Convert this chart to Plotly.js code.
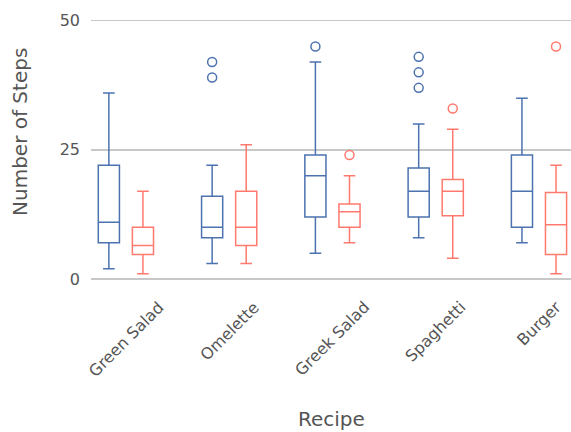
<!DOCTYPE html>
<html>
<head>
<meta charset="utf-8">
<script src="https://cdn.plot.ly/plotly-3.0.1.min.js"></script>
<style>html,body{margin:0;padding:0;background:#fff}#chart{width:571px;height:432px}</style>
</head>
<body>
<div id="chart"></div>
<script>
// Categories
const recipes = ["Green Salad", "Omelette", "Greek Salad", "Spaghetti", "Burger"];

// Series A (blue) box statistics
const aLower  = [2, 3, 5, 8, 7];
const aQ1     = [7, 8, 12, 12, 10];
const aMedian = [11, 10, 20, 17, 17];
const aQ3     = [22, 16, 24, 21.5, 24];
const aUpper  = [36, 22, 42, 30, 35];
const aOutliers = [[], [39, 42], [45], [37, 40, 43], []];

// Series B (red) box statistics
const bLower  = [1, 3, 7, 4, 1];
const bQ1     = [4.75, 6.5, 10, 12.25, 4.75];
const bMedian = [6.5, 10, 13, 17, 10.5];
const bQ3     = [10, 17, 14.5, 19.25, 16.75];
const bUpper  = [17, 26, 20, 29, 22];
const bOutliers = [[], [], [24], [33], [45]];

const yTicks = [0, 25, 50];

const blue = "rgb(76,114,176)";
const red = "rgb(255,122,110)";
const textGrey = "rgb(85,85,85)";

function boxTrace(name, color, lo, q1, med, q3, up) {
  return {
    type: "box",
    name: name,
    x: recipes,
    lowerfence: lo, q1: q1, median: med, q3: q3, upperfence: up,
    boxpoints: false,
    whiskerwidth: 0.55,
    fillcolor: "rgba(255,255,255,0)",
    line: {color: color, width: 1.5},
    showlegend: false
  };
}

function outlierTrace(name, color, outl) {
  const xs = [], ys = [];
  outl.forEach((vals, i) => vals.forEach(v => { xs.push(recipes[i]); ys.push(v); }));
  return {
    type: "scatter",
    mode: "markers",
    name: name + " outliers",
    x: xs, y: ys,
    marker: {color: color, symbol: "circle-open", size: 9, line: {color: color, width: 1.5}},
    showlegend: false
  };
}

const data = [
  boxTrace("A", blue, aLower, aQ1, aMedian, aQ3, aUpper),
  boxTrace("B", red, bLower, bQ1, bMedian, bQ3, bUpper),
  outlierTrace("A", blue, aOutliers),
  outlierTrace("B", red, bOutliers)
];

// Category labels, centred under each category and rotated
const tickAnnotations = recipes.map(r => ({
  text: r, textangle: -45,
  xref: "x", yref: "paper", x: r, y: 0, yshift: -5,
  xanchor: "center", yanchor: "top",
  showarrow: false, font: {size: 16, color: textGrey}
}));

const layout = {
  width: 571, height: 432,
  margin: {l: 91, r: 0, t: 5, b: 142},
  paper_bgcolor: "#fff", plot_bgcolor: "#fff",
  font: {family: "DejaVu Sans", color: textGrey, size: 16},
  boxmode: "group", boxgap: 0.34, boxgroupgap: 0.38,
  scattermode: "group", scattergap: 0.34,
  showlegend: false,
  xaxis: {
    type: "category",
    categoryarray: recipes, categoryorder: "array",
    range: [-0.338, 4.31],
    showticklabels: false,
    showgrid: false, zeroline: false, showline: false,
    ticks: ""
  },
  yaxis: {
    range: [-2.13, 53.04],
    tickvals: yTicks,
    showgrid: true, gridcolor: "rgb(200,200,200)", gridwidth: 1.5,
    zeroline: true, zerolinecolor: "rgb(200,200,200)", zerolinewidth: 1.5,
    showline: false, ticks: "",
    ticklabelstandoff: 10,
    tickfont: {size: 16, color: textGrey}
  },
  annotations: tickAnnotations.concat([
    {
      text: "Number of Steps", textangle: -90,
      xref: "paper", yref: "paper", x: -0.148, y: (290 - 132) / 285,
      xanchor: "center", yanchor: "middle",
      showarrow: false, font: {size: 20, color: textGrey}
    },
    {
      text: "Recipe",
      xref: "paper", yref: "paper", x: 0.5, y: (290 - 419) / 285,
      xanchor: "center", yanchor: "middle",
      showarrow: false, font: {size: 20, color: textGrey}
    }
  ])
};

Plotly.newPlot("chart", data, layout, {displayModeBar: false, staticPlot: true});
</script>
</body>
</html>
